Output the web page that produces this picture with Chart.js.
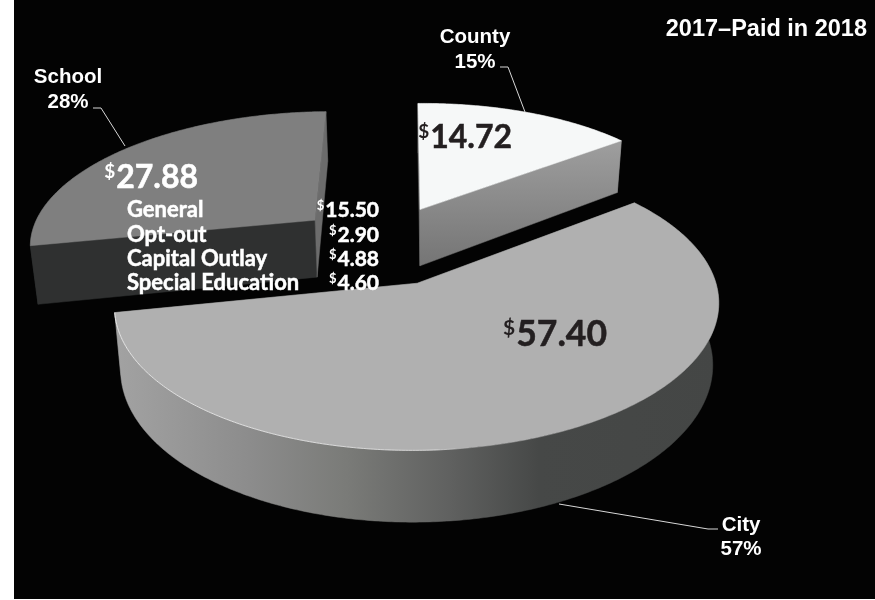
<!DOCTYPE html>
<html>
<head>
<meta charset="utf-8">
<title>2017–Paid in 2018</title>
<script src="https://cdn.jsdelivr.net/npm/chart.js@4"></script>
<style>
  html, body { margin: 0; padding: 0; background: #fff; }
  #stage { position: absolute; left: 14px; top: 0; width: 861px; height: 599px; background: #030303; }
  #chart { position: absolute; left: 0; top: 0; }
</style>
</head>
<body>
<div id="stage"></div>
<canvas id="chart" width="875" height="600"></canvas>
<script>
const chartTitle = '2017–Paid in 2018';
const categories = ['City', 'School', 'County'];
const amounts = [57.40, 27.88, 14.72];
const percentLabels = ['57%', '28%', '15%'];
const breakdownNames = ['General', 'Opt-out', 'Capital Outlay', 'Special Education'];
const breakdownAmounts = [15.50, 2.90, 4.88, 4.60];

const topColors = ['#b0b0b0', '#7f7f7f', '#f6f8f8'];
const startFaceColors = ['#444645', '#2f3030', '#6a6a6a'];
const endFaceColors = ['#444645', '#6c6c6c', '#888888'];

// perspective of the tilted pie, world units are pie radii
const view = { ax: 418, ay: 283, u0: 0.133, v0: 0.28, rx: 298.6, ry: 142, p: 0.15, shear: -4, depth: 61, shrink: 0.98 };
const PIE_RADIUS = 120;
const PIE_OFFSET = 149; // chart.js draws offset / 4

function project(X, Y, bottom) {
  const u = X - view.u0;
  const v = Y - view.v0;
  const w = 1 / (1 - view.p * v);
  const x = view.ax + view.rx * u * w + view.shear * v * w;
  const y = view.ay + view.ry * v * w;
  if (!bottom) return { x, y };
  return { x: view.ax + (x - view.ax) * view.shrink, y: y + view.depth * w };
}

function sliceGeometry(arc) {
  const { startAngle, endAngle, outerRadius, options } = arc;
  const mid = (startAngle + endAngle) / 2;
  const off = options.offset / 4 / outerRadius;
  const ox = Math.cos(mid) * off;
  const oy = Math.sin(mid) * off;
  const rim = [];
  const steps = Math.ceil((endAngle - startAngle) / 0.01);
  for (let i = 0; i <= steps; i++) {
    const a = startAngle + (endAngle - startAngle) * i / steps;
    rim.push([ox + Math.cos(a), oy + Math.sin(a)]);
  }
  return { ox, oy, rim };
}

function fillPoly(ctx, pts, fill) {
  ctx.beginPath();
  pts.forEach((p, i) => (i ? ctx.lineTo(p.x, p.y) : ctx.moveTo(p.x, p.y)));
  ctx.closePath();
  ctx.fillStyle = fill;
  ctx.fill();
  ctx.strokeStyle = fill;
  ctx.lineWidth = 0.5;
  ctx.stroke();
}

function wallGradient(ctx) {
  const g = ctx.createLinearGradient(117, 0, 720, 0);
  g.addColorStop(0, '#a2a2a2');
  g.addColorStop(0.22, '#8c8c8c');
  g.addColorStop(0.38, '#7a7b78');
  g.addColorStop(0.55, '#606160');
  g.addColorStop(0.7, '#464847');
  g.addColorStop(1, '#444645');
  return g;
}

function drawSlice(ctx, arc, i) {
  const { ox, oy, rim } = sliceGeometry(arc);
  const topRim = rim.map(r => project(r[0], r[1]));
  const lowRim = rim.map(r => project(r[0], r[1], true));
  const apexTop = project(ox, oy);
  const apexLow = project(ox, oy, true);
  const last = rim.length - 1;

  const wallPoly = topRim.concat(lowRim.slice().reverse());
  const startFace = [apexTop, topRim[0], lowRim[0], apexLow];
  const endFace = [apexTop, topRim[last], lowRim[last], apexLow];

  if (i === 0) {
    // city: the wall is in front of its cut faces
    fillPoly(ctx, startFace, startFaceColors[i]);
    fillPoly(ctx, endFace, endFaceColors[i]);
    fillPoly(ctx, wallPoly, wallGradient(ctx));
  } else {
    fillPoly(ctx, wallPoly, startFaceColors[i]);
    fillPoly(ctx, startFace, startFaceColors[i]);
    if (i === 2) {
      const g = ctx.createLinearGradient(0, 142, 0, 268);
      g.addColorStop(0, '#9e9e9e');
      g.addColorStop(1, '#747474');
      fillPoly(ctx, endFace, g);
    } else {
      fillPoly(ctx, endFace, endFaceColors[i]);
    }
  }
  fillPoly(ctx, [apexTop].concat(topRim), arc.options.backgroundColor);

  if (i === 0) {
    // thin highlight along the front left edge
    const hl = ctx.createLinearGradient(117, 0, 470, 0);
    hl.addColorStop(0, 'rgba(235,235,235,0.9)');
    hl.addColorStop(0.9, 'rgba(235,235,235,0.7)');
    hl.addColorStop(1, 'rgba(235,235,235,0)');
    ctx.beginPath();
    topRim.forEach((p, k) => (k ? ctx.lineTo(p.x, p.y) : ctx.moveTo(p.x, p.y)));
    ctx.strokeStyle = hl;
    ctx.lineWidth = 1;
    ctx.stroke();
  }
}

const pie3d = {
  id: 'pie3d',
  beforeDatasetDraw(chart, args) {
    const ctx = chart.ctx;
    const arcs = chart.getDatasetMeta(args.index).data;
    [1, 2, 0].forEach(i => drawSlice(ctx, arcs[i], i));
    return false;
  }
};

// Lato bold is a bit lighter than the original face, thicken it slightly
function boldText(ctx, text, x, y, color) {
  ctx.fillStyle = color;
  ctx.strokeStyle = color;
  ctx.lineWidth = 0.5;
  ctx.fillText(text, x, y);
  ctx.strokeText(text, x, y);
}

function money(ctx, value, x, y, size, supSize, color, rise) {
  ctx.textAlign = 'right';
  ctx.font = `700 ${size}px Lato`;
  const text = value.toFixed(2);
  boldText(ctx, text, x, y, color);
  const w = ctx.measureText(text).width;
  ctx.font = `700 ${supSize}px Lato`;
  ctx.fillStyle = color;
  ctx.fillText('$', x - w - 1, y - rise);
}

function leader(ctx, pts) {
  ctx.beginPath();
  pts.forEach((p, i) => (i ? ctx.lineTo(p[0], p[1]) : ctx.moveTo(p[0], p[1])));
  ctx.strokeStyle = '#d8d8d8';
  ctx.lineWidth = 1;
  ctx.stroke();
}

const annotations = {
  id: 'annotations',
  afterDraw(chart) {
    const ctx = chart.ctx;
    ctx.save();
    ctx.textBaseline = 'alphabetic';

    leader(ctx, [[93, 108], [101, 108], [125, 146]]);
    leader(ctx, [[500, 67], [508, 67], [525, 112]]);
    leader(ctx, [[559, 504], [708, 529], [718, 529]]);

    ctx.fillStyle = '#ffffff';
    ctx.textAlign = 'right';
    ctx.font = 'bold 23.5px "Liberation Sans"';
    ctx.fillText(chartTitle, 867, 36);

    ctx.font = 'bold 20.5px "Liberation Sans"';
    ctx.textAlign = 'center';
    ctx.fillText(categories[1], 68, 83);
    ctx.fillText(percentLabels[1], 68, 108);
    ctx.fillText(categories[2], 475, 43);
    ctx.fillText(percentLabels[2], 475, 68);
    ctx.fillText(categories[0], 741, 531);
    ctx.fillText(percentLabels[0], 741, 555);

    money(ctx, amounts[1], 198, 188, 32, 19, '#ffffff', 10);
    money(ctx, amounts[2], 512, 148, 32, 19, '#231f20', 10);
    money(ctx, amounts[0], 607, 346, 35.5, 21, '#231f20', 11);

    const rows = [217, 242, 266, 290];
    breakdownNames.forEach((name, i) => {
      ctx.textAlign = 'left';
      ctx.font = '700 22px Lato';
      boldText(ctx, name, 127, rows[i], '#ffffff');
      money(ctx, breakdownAmounts[i], 379, rows[i], 21, 13, '#ffffff', 7);
    });
    ctx.restore();
  }
};

new Chart(document.getElementById('chart'), {
  type: 'pie',
  data: {
    labels: categories,
    datasets: [{
      data: amounts,
      backgroundColor: topColors,
      borderWidth: 0,
      offset: PIE_OFFSET
    }]
  },
  options: {
    responsive: false,
    animation: false,
    rotation: 51.8,
    radius: PIE_RADIUS,
    plugins: {
      legend: { display: false },
      tooltip: { enabled: false }
    }
  },
  plugins: [pie3d, annotations]
});
</script>
</body>
</html>
